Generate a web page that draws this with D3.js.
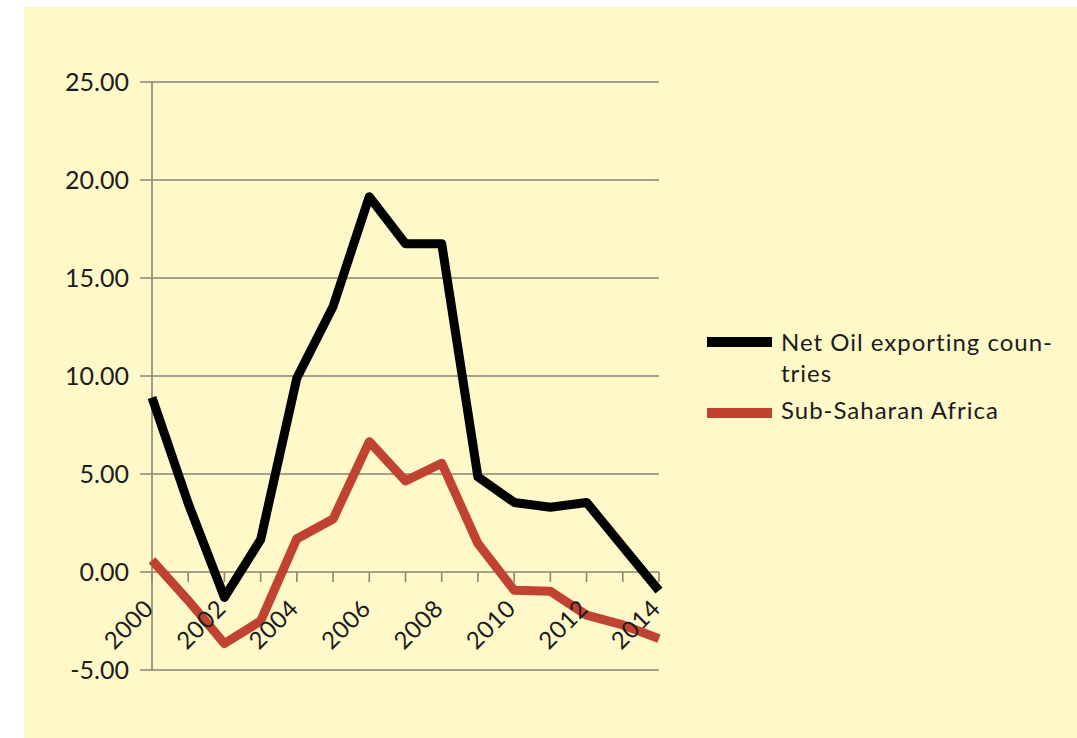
<!DOCTYPE html>
<html>
<head>
<meta charset="utf-8">
<script src="https://cdn.jsdelivr.net/npm/d3@7"></script>
<style>
  html, body { margin: 0; padding: 0; background: #ffffff; }
  svg { display: block; }
  text { font-family: Lato, "Open Sans", sans-serif; fill: #1c1c1c; }
</style>
</head>
<body>
<svg id="chart" width="1077" height="738"></svg>
<script>
// Years on the category axis
const years = [2000, 2001, 2002, 2003, 2004, 2005, 2006, 2007, 2008, 2009, 2010, 2011, 2012, 2013, 2014];
// Net oil exporting countries
const netOilExporters = [8.9, 3.5, -1.3, 1.65, 9.9, 13.55, 19.15, 16.75, 16.75, 4.85, 3.55, 3.3, 3.55, 1.3, -0.95];
// Sub-Saharan Africa
const subSaharanAfrica = [0.6, -1.45, -3.65, -2.5, 1.7, 2.7, 6.65, 4.65, 5.55, 1.45, -0.93, -0.98, -2.2, -2.7, -3.4];
// Value axis ticks
const yTicks = [-5, 0, 5, 10, 15, 20, 25];
// Legend entries (the first name wraps onto two lines)
const seriesNames = [["Net Oil exporting coun-", "tries"], ["Sub-Saharan Africa"]];

const colors = ["#000000", "#c04332"];
const gridColor = "#8c8571";

const svg = d3.select("#chart");

// Panel background
svg.append("rect")
  .attr("x", 24).attr("y", 7)
  .attr("width", 1077 - 24).attr("height", 738 - 7)
  .attr("fill", "#fff8c9");

const x = d3.scalePoint().domain(years).range([152, 659]);
const y = d3.scaleLinear().domain([-5, 25]).range([670, 82]);

// Horizontal gridlines with left tick stubs
svg.append("g").selectAll("line")
  .data(yTicks)
  .join("line")
  .attr("x1", 140).attr("x2", 659)
  .attr("y1", d => y(d)).attr("y2", d => y(d))
  .attr("stroke", gridColor).attr("stroke-width", 1.6);

// Value axis line
svg.append("line")
  .attr("x1", x(years[0])).attr("x2", x(years[0]))
  .attr("y1", y(25)).attr("y2", y(-5))
  .attr("stroke", gridColor).attr("stroke-width", 1.6);

// Value axis labels (plain hyphen for negatives)
const fmt = d => d3.format(".2f")(d).replace("\u2212", "-");
svg.append("g").selectAll("text")
  .data(yTicks)
  .join("text")
  .attr("x", 129)
  .attr("y", d => y(d))
  .attr("dy", "0.36em")
  .attr("text-anchor", "end")
  .attr("font-size", 25)
  .text(fmt);

// Category tick marks on the zero line
svg.append("g").selectAll("line")
  .data(years)
  .join("line")
  .attr("x1", d => x(d)).attr("x2", d => x(d))
  .attr("y1", y(0)).attr("y2", y(0) + 10)
  .attr("stroke", gridColor).attr("stroke-width", 1.6);

// Series lines
const line = d3.line()
  .x((d, i) => x(years[i]))
  .y(d => y(d));

[netOilExporters, subSaharanAfrica].forEach((series, k) => {
  svg.append("path")
    .datum(series)
    .attr("d", line)
    .attr("fill", "none")
    .attr("stroke", colors[k])
    .attr("stroke-width", 9)
    .attr("stroke-linejoin", "round")
    .attr("stroke-linecap", "butt");
});

// Category labels, every second year, rotated and drawn above the lines
svg.append("g").selectAll("text")
  .data(years.filter((d, i) => i % 2 === 0))
  .join("text")
  .attr("transform", d => `translate(${x(d) + 3},${y(0) + 38}) rotate(-45)`)
  .attr("text-anchor", "end")
  .attr("font-size", 24)
  .attr("letter-spacing", 0.5)
  .text(d => d);

// Legend
const legendRows = [342, 413];
const legend = svg.append("g");
seriesNames.forEach((lines, k) => {
  legend.append("line")
    .attr("x1", 707).attr("x2", 772)
    .attr("y1", legendRows[k]).attr("y2", legendRows[k])
    .attr("stroke", colors[k]).attr("stroke-width", 10);
  const t = legend.append("text")
    .attr("x", 781)
    .attr("y", legendRows[k] + (k === 0 ? 9 : 6))
    .attr("font-size", 24)
    .attr("letter-spacing", 1);
  lines.forEach((s, j) => {
    t.append("tspan")
      .attr("x", 781)
      .attr("dy", j === 0 ? 0 : 31)
      .text(s);
  });
});
</script>
</body>
</html>
